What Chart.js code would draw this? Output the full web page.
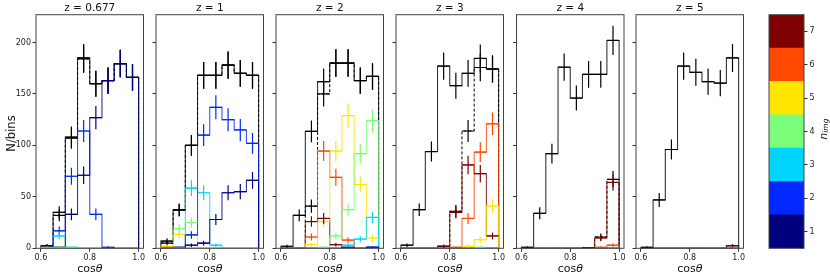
<!DOCTYPE html>
<html lang="en">
<head>
  <meta charset="UTF-8">
  <title>cos theta histograms</title>
  <style>
    body { margin: 0; background: #fff; }
    .wrap { position: relative; width: 830px; height: 277px; }
    .wrap canvas { position: absolute; left: 0; top: 0; }
  </style>
  <script src="https://cdn.jsdelivr.net/npm/chart.js@4"></script>
</head>
<body>
  <div class="wrap" id="wrap"></div>

  <script>
    // histogram bins in cos(theta)
    const binEdges = [0.6, 0.65, 0.7, 0.75, 0.8, 0.85, 0.9, 0.95, 1.0];
    const xTicks = [0.6, 0.8, 1.0];
    const yTicks = [0, 50, 100, 150, 200];
    const nImg = [1, 2, 3, 4, 5, 6, 7];
    const nImgColors = ['#00007f', '#0028ff', '#00d4ff', '#7bff7b', '#ffe600', '#ff4800', '#7f0000'];
    const redshifts = ['0.677', '1', '2', '3', '4', '5'];

    // z = 0.677
    const allZ0677 = [2.5, 35, 108, 185, 160, 163, 179.5, 166];
    const sumZ0677 = [2, 32, 107, 184, 160, 163, 179.5, 166];
    const imgZ0677 = [
      [0, 1, 33, 71, 127, 163, 179.5, 166],
      [0, 17, 70, 114, 33, 1, 0, 0],
      [0, 12, 1, 0, 0, 0, 0, 0],
      [1, 1, 1, 0, 0, 0, 0, 0],
      [0, 0, 0, 0, 0, 0, 0, 0],
      [0, 0, 0, 0, 0, 0, 0, 0],
      [0, 0, 0, 0, 0, 0, 0, 0]
    ];

    // z = 1
    const allZ1 = [7, 37.5, 100, 168, 168, 178, 170, 168];
    const sumZ1 = [5, 37, 100, 168, 168, 178, 170, 168];
    const imgZ1 = [
      [0, 0, 3, 5, 28, 54, 55, 66],
      [0, 1, 13, 110, 137, 125, 115, 102],
      [0, 1, 58.5, 54, 3, 0, 0, 0],
      [0, 19, 25, 0, 0, 0, 0, 0],
      [2, 13.6, 0, 0, 0, 0, 0, 0],
      [1, 1, 0, 0, 0, 0, 0, 0],
      [0, 0, 0, 0, 0, 0, 0, 0]
    ];

    // z = 2
    const allZ2 = [2, 32, 113.6, 162, 180, 180, 163, 167];
    const sumZ2 = [0, 0, 41, 150, 180, 180, 163, 167];
    const imgZ2 = [
      [0, 0, 0, 0, 0, 1, 0, 1],
      [0, 0, 0, 0, 0, 0.6, 0, 1],
      [0, 0, 0, 0, 0, 3, 9, 30],
      [0, 0, 0, 1, 12, 37.5, 92, 124],
      [0, 0, 3.5, 26, 94.5, 129, 62, 10],
      [0, 0, 11, 94.5, 69, 8, 0, 0],
      [0, 0, 26, 29, 3.5, 0, 0, 0]
    ];

    // z = 3
    const allZ3 = [3, 37.5, 94, 177, 158, 170, 184.5, 174.5];
    const sumZ3 = [0, 0, 0, 2, 36, 114, 175.7, 174];
    const imgZ3 = [
      [0, 0, 0, 0, 0, 0, 0, 0],
      [0, 0, 0, 0, 0, 0, 0, 0],
      [0, 0, 0, 0, 0, 0, 0, 0],
      [0, 0, 0, 0, 0, 0, 1, 0],
      [0, 0, 0, 0, 0, 2, 8.4, 41],
      [0, 0, 0, 0, 1, 29, 93.5, 121],
      [0, 0, 0, 2, 35, 81, 72.5, 12]
    ];

    // z = 4
    const allZ4 = [1, 34, 92, 176, 146, 169, 169, 202];
    const sumZ4 = [0, 0, 0, 0, 0, 0.6, 11, 67];
    const imgZ4 = [
      [0, 0, 0, 0, 0, 0, 0, 0],
      [0, 0, 0, 0, 0, 0, 0, 0],
      [0, 0, 0, 0, 0, 0, 0, 0],
      [0, 0, 0, 0, 0, 0, 0, 0],
      [0, 0, 0, 0, 0, 0, 0, 0],
      [0, 0, 0, 0, 0, 0, 1, 3],
      [0, 0, 0, 0, 0, 0.6, 10, 64]
    ];

    // z = 5
    const allZ5 = [1, 47, 96, 177, 171, 162, 160.5, 185];
    const sumZ5 = [0, 0, 0, 0, 0, 0, 0, 2.6];
    const imgZ5 = [
      [0, 0, 0, 0, 0, 0, 0, 0],
      [0, 0, 0, 0, 0, 0, 0, 0],
      [0, 0, 0, 0, 0, 0, 0, 0],
      [0, 0, 0, 0, 0, 0, 0, 0],
      [0, 0, 0, 0, 0, 0, 0, 0],
      [0, 0, 0, 0, 0, 0, 0, 0],
      [0, 0, 0, 0, 0, 0, 0, 2.6]
    ];

    const panels = [
      [allZ0677, sumZ0677, imgZ0677],
      [allZ1, sumZ1, imgZ1],
      [allZ2, sumZ2, imgZ2],
      [allZ3, sumZ3, imgZ3],
      [allZ4, sumZ4, imgZ4],
      [allZ5, sumZ5, imgZ5]
    ];

    // layout (pixels)
    const W = 830, H = 277;
    const panelLeft = [36, 156, 276, 396, 516.5, 636];
    const panelWidth = 107.5;
    const areaTop = 14.7, areaBottom = 248.3;
    const yAxisW = 30, xAxisH = 14, cbAxisW = 20;
    const FONT = '"DejaVu Sans", sans-serif';

    Chart.defaults.font.family = FONT;
    Chart.defaults.color = '#222';

    const wrap = document.getElementById('wrap');
    function newCanvas() {
      const c = document.createElement('canvas');
      c.width = W;
      c.height = H;
      c.style.width = W + 'px';
      c.style.height = H + 'px';
      wrap.appendChild(c);
      return c.getContext('2d');
    }

    function rgba(hex, a) {
      const n = parseInt(hex.slice(1), 16);
      return `rgba(${n >> 16},${(n >> 8) & 255},${n & 255},${a})`;
    }

    // outline of a step histogram
    function stepPoints(vals) {
      const last = binEdges[binEdges.length - 1];
      const pts = [{ x: binEdges[0], y: 0 }];
      vals.forEach((v, i) => pts.push({ x: binEdges[i], y: v }));
      pts.push({ x: last, y: vals[vals.length - 1] });
      pts.push({ x: last, y: 0 });
      return pts;
    }

    const framePlugin = {
      id: 'frame',
      afterDraw(chart) {
        const a = chart.chartArea, ctx = chart.ctx;
        ctx.save();
        ctx.strokeStyle = '#444';
        ctx.lineWidth = 1;
        ctx.strokeRect(a.left, a.top, a.right - a.left, a.bottom - a.top);
        ctx.restore();
      }
    };

    function errPlugin(series) {
      return {
        id: 'errbars',
        afterDatasetsDraw(chart) {
          const { ctx, chartArea: a } = chart;
          const xs = chart.scales.x, ys = chart.scales.y;
          ctx.save();
          ctx.beginPath();
          ctx.rect(a.left, a.top, a.right - a.left, a.bottom - a.top);
          ctx.clip();
          ctx.lineWidth = 1.2;
          series.forEach(s => {
            ctx.strokeStyle = s.color;
            s.values.forEach((v, i) => {
              if (v <= 0) return;
              const e = Math.sqrt(v);
              const x0 = xs.getPixelForValue(binEdges[i]);
              const x1 = xs.getPixelForValue(binEdges[i + 1]);
              const xc = xs.getPixelForValue((binEdges[i] + binEdges[i + 1]) / 2);
              const y = ys.getPixelForValue(v);
              ctx.beginPath();
              ctx.moveTo(xc, ys.getPixelForValue(v + e));
              ctx.lineTo(xc, ys.getPixelForValue(v - e));
              ctx.moveTo(x0, y);
              ctx.lineTo(x1, y);
              ctx.stroke();
            });
          });
          ctx.restore();
        }
      };
    }

    function textPlugin(idx) {
      return {
        id: 'texts',
        afterDraw(chart) {
          const { ctx, chartArea: a } = chart;
          const cx = (a.left + a.right) / 2;
          ctx.save();
          ctx.fillStyle = '#111';
          ctx.textBaseline = 'alphabetic';
          // title
          ctx.font = `10.5px ${FONT}`;
          ctx.textAlign = 'center';
          ctx.fillText('z = ' + redshifts[idx], cx, 10.8);
          // x label: cos + italic theta
          ctx.textAlign = 'left';
          ctx.font = `11px ${FONT}`;
          const w1 = ctx.measureText('cos').width;
          ctx.font = `italic 11px ${FONT}`;
          const w2 = ctx.measureText('θ').width;
          const sx = cx - (w1 + w2) / 2;
          ctx.font = `11px ${FONT}`;
          ctx.fillText('cos', sx, 272);
          ctx.font = `italic 11px ${FONT}`;
          ctx.fillText('θ', sx + w1, 272);
          // y label only on first panel
          if (idx === 0) {
            ctx.translate(14.5, (a.top + a.bottom) / 2 + 2);
            ctx.rotate(-Math.PI / 2);
            ctx.textAlign = 'center';
            ctx.font = `11.5px ${FONT}`;
            ctx.fillText('N/bins', 0, 0);
          }
          ctx.restore();
        }
      };
    }

    panels.forEach(([all, sum, byImg], idx) => {
      const datasets = [];
      byImg.forEach((vals, k) => {
        datasets.push({
          label: 'n=' + nImg[k],
          data: stepPoints(vals),
          borderColor: rgba(nImgColors[k], 0.8),
          borderWidth: 1.1
        });
      });
      datasets.push({ label: 'sum', data: stepPoints(sum), borderColor: '#000', borderWidth: 1, borderDash: [3, 2] });
      datasets.push({ label: 'all', data: stepPoints(all), borderColor: rgba('#000000', 0.8), borderWidth: 1.1 });

      const errSeries = [{ values: all, color: '#000' }, { values: sum, color: '#000' }]
        .concat(byImg.map((vals, k) => ({ values: vals, color: nImgColors[k] })));

      const left = panelLeft[idx];
      new Chart(newCanvas(), {
        type: 'line',
        data: { datasets },
        options: {
          responsive: false,
          animation: false,
          devicePixelRatio: 1,
          datasets: { line: { stepped: true, pointRadius: 0, fill: false } },
          layout: {
            padding: {
              left: left - yAxisW,
              right: W - left - panelWidth,
              top: areaTop,
              bottom: H - areaBottom - xAxisH
            }
          },
          plugins: { legend: { display: false }, tooltip: { enabled: false } },
          scales: {
            x: {
              type: 'linear',
              min: 0.58,
              max: 1.02,
              afterBuildTicks: s => { s.ticks = xTicks.map(v => ({ value: v })); },
              afterFit: s => { s.height = xAxisH; },
              grid: { drawOnChartArea: false, tickLength: 3.5, color: '#333' },
              border: { display: false },
              ticks: { font: { size: 8 }, padding: 1, maxRotation: 0, autoSkip: false, callback: v => v.toFixed(1) }
            },
            y: {
              min: 0,
              max: 227,
              afterBuildTicks: s => { s.ticks = yTicks.map(v => ({ value: v })); },
              afterFit: s => { s.width = yAxisW; },
              grid: { drawOnChartArea: false, tickLength: 3.5, color: '#333' },
              border: { display: false },
              ticks: { display: idx === 0, font: { size: 8 }, padding: 1.5 }
            }
          }
        },
        plugins: [errPlugin(errSeries), framePlugin, textPlugin(idx)]
      });
    });

    // colour bar for the number of images
    const cbLeft = 769, cbRight = 804;
    new Chart(newCanvas(), {
      type: 'bar',
      data: {
        labels: ['n_img'],
        datasets: nImg.map((n, k) => ({
          label: String(n),
          data: [[n - 0.5, n + 0.5]],
          backgroundColor: nImgColors[k],
          borderWidth: 0,
          grouped: false,
          barPercentage: 1,
          categoryPercentage: 1
        }))
      },
      options: {
        responsive: false,
        animation: false,
        devicePixelRatio: 1,
        layout: { padding: { left: cbLeft, right: W - cbRight - cbAxisW, top: areaTop, bottom: H - areaBottom } },
        plugins: { legend: { display: false }, tooltip: { enabled: false } },
        scales: {
          x: { display: false },
          y: {
            position: 'right',
            min: 0.5,
            max: 7.5,
            afterBuildTicks: s => { s.ticks = nImg.map(v => ({ value: v })); },
            afterFit: s => { s.width = cbAxisW; },
            grid: { drawOnChartArea: false, tickLength: 3.5, color: '#333' },
            border: { display: false },
            ticks: { font: { size: 8 }, padding: 2 }
          }
        }
      },
      plugins: [framePlugin, {
        id: 'cblabel',
        afterDraw(chart) {
          const ctx = chart.ctx;
          ctx.save();
          ctx.fillStyle = '#111';
          ctx.font = `italic 10.5px ${FONT}`;
          const wn = ctx.measureText('n').width;
          ctx.font = `italic 7.5px ${FONT}`;
          const ws = ctx.measureText('img').width;
          ctx.translate(826.5, 129);
          ctx.rotate(-Math.PI / 2);
          const sx = -(wn + ws) / 2;
          ctx.textAlign = 'left';
          ctx.font = `italic 10.5px ${FONT}`;
          ctx.fillText('n', sx, 0);
          ctx.font = `italic 7.5px ${FONT}`;
          ctx.fillText('img', sx + wn, 1.5);
          ctx.restore();
        }
      }]
    });
  </script>
</body>
</html>
